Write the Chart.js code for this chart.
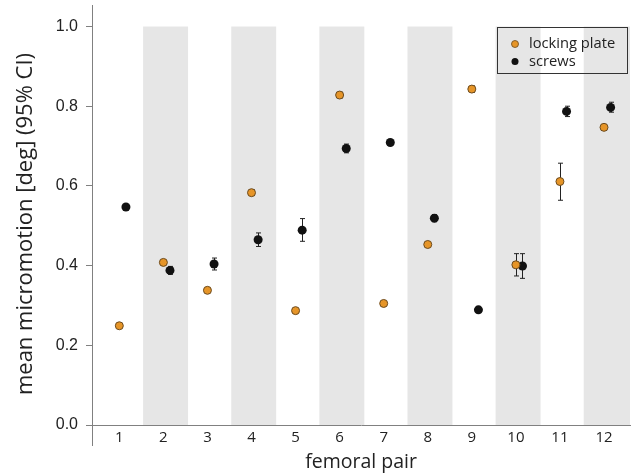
<!DOCTYPE html>
<html>
<head>
<meta charset="utf-8">
<style>
  html, body { margin: 0; padding: 0; background: #ffffff; }
  #wrap { width: 635px; height: 473px; position: relative; }
</style>
<script src="https://cdn.jsdelivr.net/npm/chart.js@4.4.1/dist/chart.umd.min.js"></script>
</head>
<body>
<div id="wrap"><canvas id="c" width="635" height="473"></canvas></div>
<script>
// ---- data ----
const categories = [1, 2, 3, 4, 5, 6, 7, 8, 9, 10, 11, 12];
const lockingMean = [0.249, 0.408, 0.338, 0.583, 0.287, 0.828, 0.305, 0.453, 0.843, 0.402, 0.611, 0.747];
const lockingLow  = [0.246, 0.402, 0.335, 0.576, 0.284, 0.821, 0.302, 0.450, 0.835, 0.374, 0.564, 0.744];
const lockingHigh = [0.252, 0.414, 0.341, 0.590, 0.290, 0.835, 0.308, 0.456, 0.851, 0.430, 0.657, 0.750];
const screwsMean  = [0.547, 0.388, 0.404, 0.465, 0.489, 0.694, 0.709, 0.519, 0.289, 0.399, 0.787, 0.797];
const screwsLow   = [0.544, 0.378, 0.389, 0.448, 0.461, 0.683, 0.706, 0.510, 0.286, 0.368, 0.774, 0.785];
const screwsHigh  = [0.550, 0.398, 0.419, 0.482, 0.518, 0.705, 0.712, 0.528, 0.292, 0.430, 0.800, 0.810];
const yTicks = [0, 0.2, 0.4, 0.6, 0.8, 1.0];
const seriesLabels = ['locking plate', 'screws'];
const xTitle = 'femoral pair';
const yTitle = 'mean micromotion [deg] (95% CI)';

// ---- styling ----
const ORANGE = '#E69528';
const ORANGE_EDGE = '#6b4a1e';
const BLACK = '#111111';
const BAND = '#e6e6e6';
const AXIS = '#808080';
const TEXT = '#222222';
const OFFSET_SCREWS = 0.15;

const lockingData = categories.map((c, i) => ({x: c, y: lockingMean[i], lo: lockingLow[i], hi: lockingHigh[i]}));
const screwsData = categories.map((c, i) => ({x: c + OFFSET_SCREWS, y: screwsMean[i], lo: screwsLow[i], hi: screwsHigh[i]}));

const bandsPlugin = {
  id: 'bands',
  beforeDraw(chart) {
    const {ctx, chartArea, scales: {x, y}} = chart;
    ctx.save();
    ctx.fillStyle = BAND;
    const top = y.getPixelForValue(1.0);
    const bottom = y.getPixelForValue(0);
    const last = categories[categories.length - 1];
    categories.forEach(c => {
      if (c % 2 === 0) {
        const l = x.getPixelForValue(c - 0.46);
        const r = c === last ? chartArea.right : x.getPixelForValue(c + 0.56);
        ctx.fillRect(l, top, r - l, bottom - top);
      }
    });
    ctx.restore();
  }
};

const errorBarsPlugin = {
  id: 'errbars',
  beforeDatasetsDraw(chart) {
    const {ctx, scales: {x, y}} = chart;
    ctx.save();
    ctx.strokeStyle = '#222';
    ctx.lineWidth = 1;
    chart.data.datasets.forEach(ds => {
      ds.data.forEach(p => {
        const px = Math.round(x.getPixelForValue(p.x)) + 0.5;
        const yl = y.getPixelForValue(p.lo);
        const yh = y.getPixelForValue(p.hi);
        ctx.beginPath();
        ctx.moveTo(px, yl); ctx.lineTo(px, yh);
        ctx.moveTo(px - 2.5, yl); ctx.lineTo(px + 2.5, yl);
        ctx.moveTo(px - 2.5, yh); ctx.lineTo(px + 2.5, yh);
        ctx.stroke();
      });
    });
    ctx.restore();
  }
};

const axisExtPlugin = {
  id: 'axisExt',
  afterDraw(chart) {
    const {ctx, chartArea} = chart;
    ctx.save();
    ctx.strokeStyle = AXIS;
    ctx.lineWidth = 1;
    const lx = Math.round(chartArea.left) + 0.5;
    ctx.beginPath();
    ctx.moveTo(lx, chartArea.bottom);
    ctx.lineTo(lx, chartArea.bottom + 21);
    ctx.stroke();
    // y axis title (drawn here so it can sit slightly below the plot centre, as in the reference)
    ctx.fillStyle = TEXT;
    ctx.font = '22px "Open Sans"';
    ctx.textAlign = 'center';
    ctx.textBaseline = 'middle';
    ctx.translate(26, (chartArea.top + chartArea.bottom) / 2 + 9);
    ctx.rotate(-Math.PI / 2);
    ctx.fillText(yTitle, 0, 0);
    ctx.restore();
  }
};

const legendPlugin = {
  id: 'boxLegend',
  afterDatasetsDraw(chart) {
    const {ctx, chartArea} = chart;
    const bx = chartArea.right - 133, by = chartArea.top + 22, bw = 130, bh = 46;
    ctx.save();
    ctx.strokeStyle = '#333';
    ctx.lineWidth = 1;
    ctx.strokeRect(Math.round(bx) + 0.5, Math.round(by) + 0.5, bw, bh);
    ctx.font = '14.7px "Open Sans"';
    ctx.textBaseline = 'middle';
    ctx.textAlign = 'left';
    chart.data.datasets.forEach((ds, i) => {
      const cy = by + 17 + i * 17.5;
      const cx = bx + 18;
      ctx.beginPath();
      ctx.arc(cx, cy, 3.5, 0, Math.PI * 2);
      ctx.fillStyle = ds.backgroundColor;
      ctx.fill();
      if (ds.borderColor !== ds.backgroundColor) {
        ctx.strokeStyle = ds.borderColor; ctx.lineWidth = 0.8; ctx.stroke();
      }
      ctx.fillStyle = TEXT;
      ctx.fillText(ds.label, cx + 14, cy);
    });
    ctx.restore();
  }
};

new Chart(document.getElementById('c'), {
  type: 'scatter',
  data: {
    datasets: [
      {label: seriesLabels[0], data: lockingData, backgroundColor: ORANGE, borderColor: ORANGE_EDGE, borderWidth: 1, pointRadius: 4, pointHoverRadius: 4},
      {label: seriesLabels[1], data: screwsData, backgroundColor: BLACK, borderColor: BLACK, borderWidth: 0, pointRadius: 4.5, pointHoverRadius: 4.5}
    ]
  },
  options: {
    responsive: false,
    animation: false,
    events: [],
    layout: {padding: {top: 4, right: 2, left: 0, bottom: 0}},
    plugins: {legend: {display: false}, tooltip: {enabled: false}},
    scales: {
      x: {
        type: 'linear',
        min: 0.38,
        max: 12.59,
        afterBuildTicks(scale) { scale.ticks = categories.map(v => ({value: v})); },
        afterFit(scale) { scale.height = 48; scale.paddingLeft = 0; scale.paddingRight = 0; },
        grid: {display: false, drawTicks: false},
        border: {display: true, color: AXIS, width: 1},
        ticks: {color: TEXT, font: {family: '"Open Sans"', size: 15}, padding: 4, maxRotation: 0, autoSkip: false,
                callback: v => String(v)},
        title: {display: true, text: xTitle, color: TEXT, font: {family: '"Open Sans"', size: 19.5}, padding: {top: 0, bottom: -1}}
      },
      y: {
        min: 0,
        max: 1.054,
        afterBuildTicks(scale) { scale.ticks = yTicks.map(v => ({value: v})); },
        afterFit(scale) { scale.width = 92; scale.paddingTop = 0; scale.paddingBottom = 0; },
        grid: {display: true, drawOnChartArea: false, drawTicks: true, tickLength: 6, color: AXIS},
        border: {display: true, color: AXIS, width: 1},
        ticks: {color: TEXT, font: {family: '"Liberation Sans", Arial', size: 16}, padding: 8,
                callback: v => v.toFixed(1)},
        title: {display: false, text: yTitle}
      }
    }
  },
  plugins: [bandsPlugin, errorBarsPlugin, axisExtPlugin, legendPlugin]
});
</script>
</body>
</html>
